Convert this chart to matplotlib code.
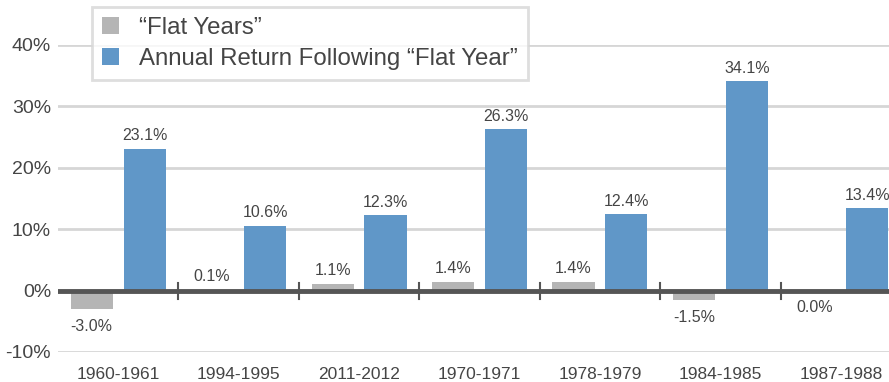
import matplotlib
matplotlib.use("Agg")
import matplotlib.pyplot as plt
import numpy as np

# periods and returns (%)
periods = ["1960-1961", "1994-1995", "2011-2012", "1970-1971",
           "1978-1979", "1984-1985", "1987-1988"]
flat_years = [-3.0, 0.1, 1.1, 1.4, 1.4, -1.5, 0.0]
following = [23.1, 10.6, 12.3, 26.3, 12.4, 34.1, 13.4]

GRAY = "#b5b5b5"
BLUE = "#6097c8"
TXT = "#454545"

plt.rcParams["font.family"] = ["Liberation Sans", "DejaVu Sans"]

fig = plt.figure(figsize=(8.89, 3.82), dpi=100)
# axes runs a little past the right edge so the last bar is cut off
ax = fig.add_axes([58 / 889, 1 - 352 / 382, 843 / 889, 307 / 382])

x = np.arange(len(periods))
w = 0.35
off = 0.22
ax.bar(x - off, flat_years, w, color=GRAY, zorder=2, label="\u201cFlat Years\u201d")
ax.bar(x + off, following, w, color=BLUE, zorder=2,
       label="Annual Return Following \u201cFlat Year\u201d")

# value labels
for xi, v in zip(x - off, flat_years):
    if v > 0:
        ax.annotate(f"{v:.1f}%", (xi, v), xytext=(0, 4), textcoords="offset points",
                    ha="center", va="bottom", fontsize=11.5, color=TXT,
                    annotation_clip=False)
    else:
        ax.annotate(f"{v:.1f}%", (xi, v), xytext=(0, -7), textcoords="offset points",
                    ha="center", va="top", fontsize=11.5, color=TXT,
                    annotation_clip=False)
for xi, v in zip(x + off, following):
    ax.annotate(f"{v:.1f}%", (xi, v), xytext=(0, 4), textcoords="offset points",
                ha="center", va="bottom", fontsize=11.5, color=TXT,
                annotation_clip=False)

ax.set_xlim(-0.5, len(periods) - 0.5)
ax.set_ylim(-10, 40)
ax.set_yticks([-10, 0, 10, 20, 30, 40])
ax.set_yticklabels([f"{t}%" for t in [-10, 0, 10, 20, 30, 40]])
ax.set_xticks(x)
ax.set_xticklabels(periods)
ax.tick_params(axis="both", length=0, colors=TXT)
ax.tick_params(axis="x", pad=11, labelsize=12.5)
ax.tick_params(axis="y", pad=5, labelsize=14)

ax.yaxis.grid(True, color="#d6d6d6", linewidth=2, zorder=0)
for s in ax.spines.values():
    s.set_visible(False)

# zero line with small separators between groups
ax.axhline(0, color="#555555", linewidth=3.5, zorder=3)
for b in np.arange(0.5, len(periods) - 0.5):
    ax.plot([b, b], [-1.3, 1.3], color="#555555", linewidth=1.5, zorder=3)

leg = ax.legend(loc="upper left", bbox_to_anchor=(34 / 843, 1 + 38 / 307),
                frameon=True, fancybox=False,
                prop={"family": ["Liberation Sans", "DejaVu Sans"], "size": 17.3},
                handlelength=0.7, handleheight=0.7, handletextpad=0.85,
                labelspacing=0.35, borderpad=0.42, borderaxespad=0)
leg.get_frame().set_edgecolor("#d6d6d6")
leg.get_frame().set_linewidth(2)
for t in leg.get_texts():
    t.set_color(TXT)

fig.savefig("out.png", dpi=100)
